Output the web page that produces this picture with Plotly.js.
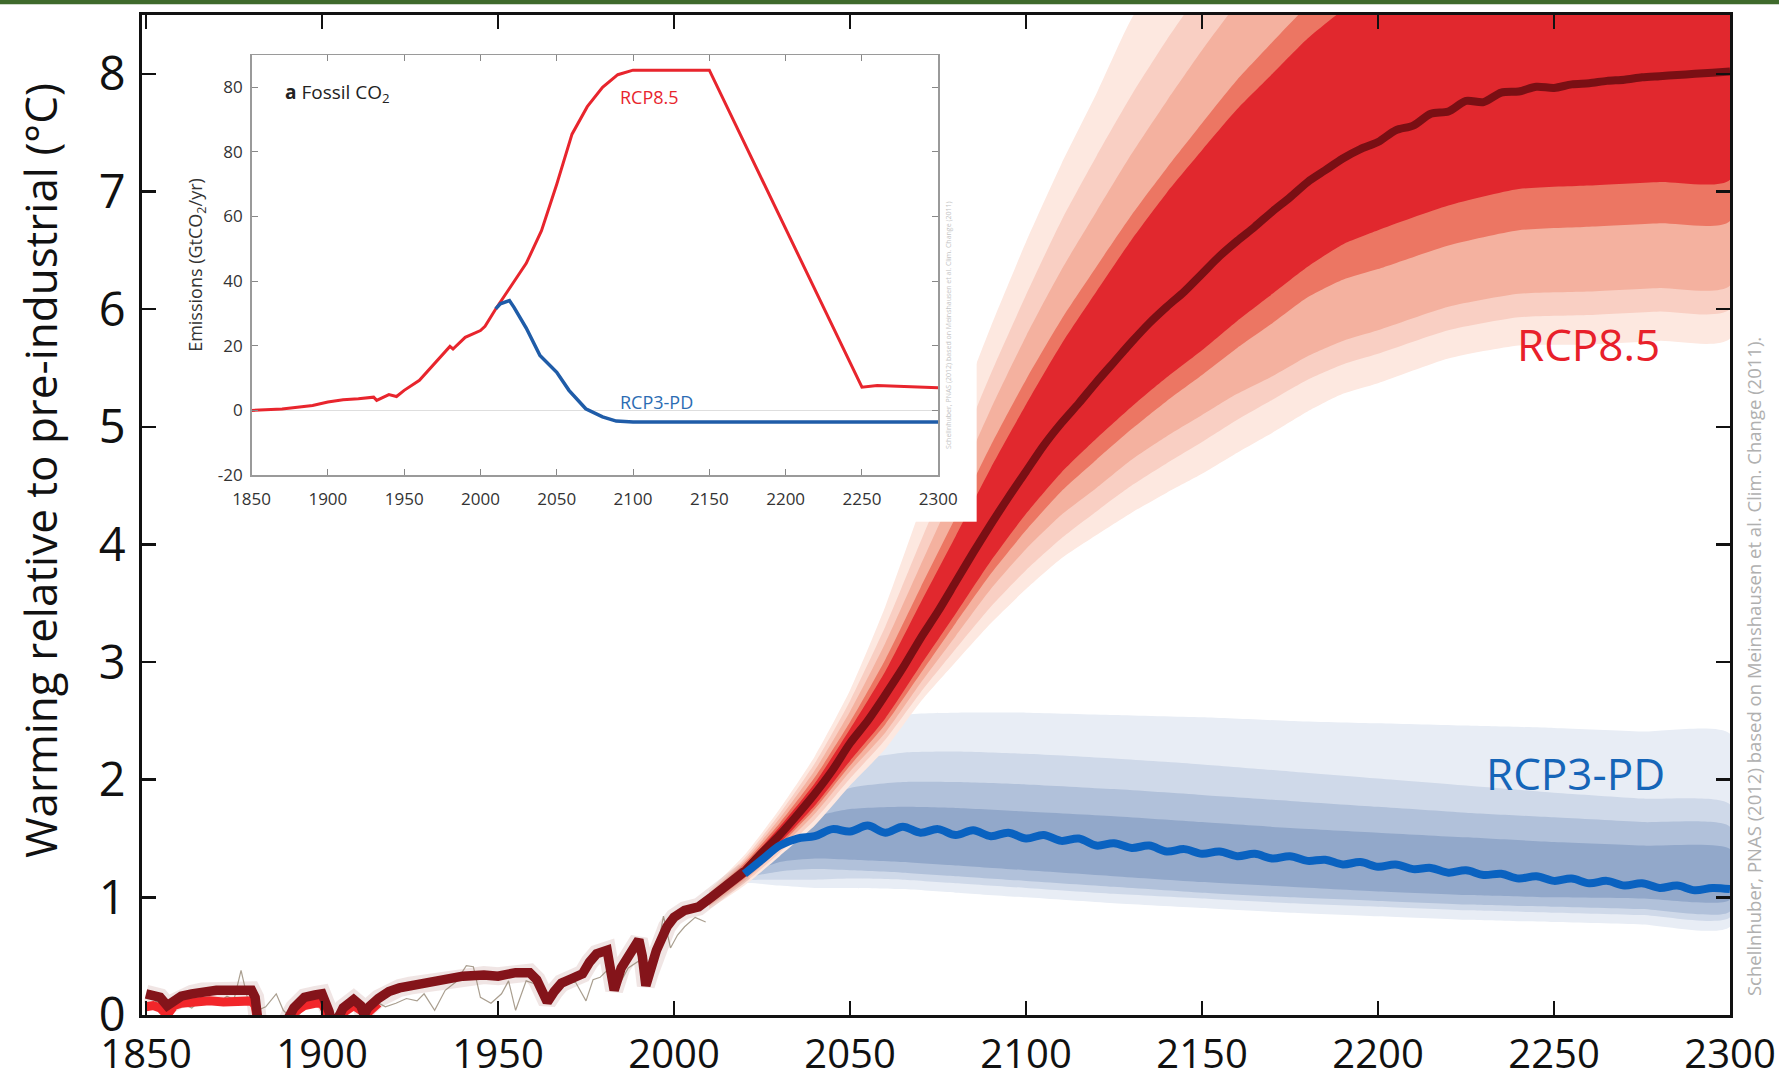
<!DOCTYPE html>
<html>
<head>
<meta charset="utf-8">
<script src="https://cdn.plot.ly/plotly-3.0.1.min.js"></script>
<style>html,body{margin:0;padding:0;background:#fff;}#chart{width:1779px;height:1081px;}</style>
</head>
<body>
<div id="chart"></div>
<script>
// ---------------- Main chart data (warming, °C) ----------------
const xTickYears = [1850, 1900, 1950, 2000, 2050, 2100, 2150, 2200, 2250, 2300];
const xTickLabels = ['1850', '1900', '1950', '2000', '2050', '2100', '2150', '2200', '2250', '2300'];
const yTickValues = [0, 1, 2, 3, 4, 5, 6, 7, 8];

// historical model median (dark red)
const histYears = [1850,1852,1854,1856,1858,1860,1863,1866,1870,1874,1877,1880,1881,1882,1886,1890,1892,1895,1898,1900,1902,1903,1905,1906,1909,1911,1912,1913,1916,1919,1922,1925,1930,1935,1940,1946,1950,1955,1959,1961,1963,1964,1966,1968,1971,1974,1976,1978,1981,1982,1983,1985,1987,1990,1991,1992,1993,1995,1998,2000,2003,2007,2011,2015,2020];
const histWarming = [0.18,0.17,0.15,0.08,0.12,0.16,0.18,0.20,0.21,0.21,0.20,0.21,0.15,-0.10,-0.15,-0.05,0.06,0.15,0.17,0.18,0.03,-0.10,0.00,0.06,0.13,0.08,0.00,0.06,0.14,0.20,0.23,0.25,0.28,0.31,0.33,0.34,0.33,0.36,0.36,0.30,0.15,0.11,0.20,0.27,0.31,0.35,0.45,0.52,0.55,0.35,0.21,0.40,0.50,0.64,0.50,0.25,0.35,0.55,0.75,0.83,0.89,0.92,1.01,1.10,1.22];

// early bright red historical line
const brightYears = [1850,1852,1854,1856,1858,1860,1864,1868,1872,1876,1880,1881,1882,1886,1890,1892,1895,1898,1900,1902,1904,1906,1909,1911,1913,1916];
const brightWarming = [0.07,0.08,0.06,0.00,0.08,0.10,0.11,0.12,0.11,0.11,0.12,0.08,-0.10,-0.15,-0.08,0.02,0.08,0.10,0.10,-0.02,-0.10,0.02,0.08,0.04,0.02,0.10];

// thin observed record
const obsYears = [1850,1853,1856,1860,1863,1866,1870,1873,1875,1877,1879,1881,1884,1887,1889,1892,1895,1898,1901,1904,1907,1909,1912,1915,1918,1921,1924,1927,1929,1932,1935,1938,1941,1943,1945,1948,1951,1953,1955,1958,1961,1964,1966,1968,1970,1972,1975,1977,1979,1981,1983,1985,1987,1990,1992,1995,1997,1999,2001,2003,2006,2009];
const obsWarming = [0.05,0.12,0.02,0.10,0.06,0.14,0.09,0.16,0.13,0.38,0.12,0.03,0.07,0.18,0.04,-0.05,0.06,0.15,0.12,-0.05,0.01,0.10,0.02,0.12,0.07,0.10,0.14,0.12,0.18,0.04,0.21,0.28,0.42,0.41,0.15,0.10,0.18,0.29,0.04,0.29,0.26,0.18,0.22,0.31,0.27,0.28,0.12,0.30,0.32,0.38,0.28,0.29,0.40,0.46,0.30,0.52,0.84,0.57,0.68,0.75,0.83,0.79];

// scenario medians
const scenYears = [2020,2025,2030,2035,2040,2045,2050,2055,2060,2065,2070,2075,2080,2085,2090,2095,2100,2105,2110,2115,2120,2125,2130,2135,2140,2145,2150,2155,2160,2165,2170,2175,2180,2185,2190,2195,2200,2205,2210,2215,2220,2225,2230,2235,2240,2245,2250,2255,2260,2265,2270,2275,2280,2285,2290,2295,2300];
const rcp85Median = [1.22,1.38,1.53,1.70,1.88,2.08,2.31,2.50,2.72,2.95,3.20,3.43,3.68,3.93,4.17,4.40,4.62,4.84,5.03,5.20,5.38,5.55,5.72,5.88,6.02,6.15,6.30,6.45,6.58,6.70,6.83,6.95,7.08,7.18,7.28,7.36,7.42,7.52,7.56,7.66,7.68,7.77,7.76,7.84,7.85,7.89,7.88,7.91,7.92,7.94,7.95,7.97,7.98,7.99,8.00,8.01,8.02];
const rcp3pdMedian = [1.20,1.32,1.44,1.50,1.52,1.58,1.56,1.61,1.55,1.60,1.55,1.58,1.53,1.57,1.52,1.55,1.50,1.53,1.48,1.50,1.44,1.46,1.42,1.44,1.39,1.41,1.37,1.39,1.35,1.37,1.33,1.35,1.31,1.32,1.28,1.30,1.26,1.28,1.24,1.25,1.21,1.23,1.19,1.20,1.16,1.18,1.14,1.16,1.12,1.14,1.10,1.12,1.08,1.10,1.06,1.08,1.07];

// RCP8.5 uncertainty bands (outer 5 -> inner 1)
const fanYears = [2010,2020,2030,2040,2050,2060,2070,2080,2090,2100,2110,2120,2130,2140,2150,2160,2170,2180,2190,2200,2220,2240,2260,2280,2300];
const r1Upper = [1.01,1.27,1.60,1.97,2.43,2.92,3.50,4.07,4.65,5.19,5.70,6.15,6.59,6.99,7.35,7.70,8.00,8.30,8.54,8.72,9.05,9.27,9.34,9.43,9.50];
const r1Lower = [0.95,1.17,1.46,1.78,2.16,2.52,2.97,3.41,3.86,4.26,4.61,4.90,5.17,5.42,5.65,5.90,6.13,6.36,6.55,6.67,6.88,7.02,7.05,7.08,7.10];
const r2Upper = [1.02,1.29,1.63,2.02,2.49,3.02,3.63,4.23,4.84,5.40,5.91,6.36,6.80,7.20,7.58,7.95,8.27,8.58,8.83,9.02,9.35,9.57,9.64,9.73,9.80];
const r2Lower = [0.94,1.16,1.44,1.75,2.12,2.47,2.90,3.33,3.75,4.12,4.45,4.72,4.98,5.22,5.44,5.67,5.88,6.10,6.25,6.34,6.54,6.67,6.70,6.73,6.75];
const r3Upper = [1.03,1.31,1.67,2.08,2.58,3.16,3.82,4.48,5.15,5.77,6.33,6.83,7.32,7.77,8.20,8.60,8.93,9.24,9.48,9.67,10.00,10.22,10.30,10.38,10.44];
const r3Lower = [0.93,1.14,1.41,1.71,2.07,2.40,2.82,3.22,3.62,3.96,4.25,4.48,4.72,4.92,5.10,5.28,5.43,5.60,5.73,5.82,6.02,6.13,6.15,6.18,6.20];
const r4Upper = [1.04,1.33,1.71,2.14,2.67,3.30,4.02,4.73,5.45,6.12,6.75,7.30,7.82,8.29,8.72,9.11,9.43,9.74,9.98,10.17,10.50,10.72,10.80,10.88,10.94];
const r4Lower = [0.92,1.12,1.38,1.66,2.01,2.34,2.74,3.11,3.47,3.78,4.05,4.28,4.50,4.69,4.87,5.06,5.23,5.40,5.53,5.62,5.82,5.93,5.95,5.98,6.00];
const r5Upper = [1.06,1.36,1.75,2.20,2.76,3.47,4.30,5.08,5.85,6.57,7.23,7.83,8.47,8.92,9.30,9.68,10.03,10.33,10.58,10.77,11.10,11.32,11.42,11.48,11.52];
const r5Lower = [0.90,1.10,1.35,1.61,1.95,2.26,2.66,3.00,3.33,3.62,3.88,4.08,4.27,4.44,4.60,4.78,4.95,5.13,5.28,5.37,5.58,5.69,5.70,5.73,5.75];

// RCP3-PD uncertainty bands (outer 4 -> inner 1)
const blueYears = [2015,2020,2030,2040,2050,2065,2080,2100,2125,2150,2175,2200,2225,2250,2275,2300];
const b4Upper = [1.10,1.25,1.70,2.15,2.40,2.55,2.57,2.57,2.55,2.53,2.50,2.48,2.46,2.44,2.41,2.39];
const b4Lower = [1.05,1.12,1.10,1.08,1.08,1.07,1.04,1.00,0.95,0.91,0.87,0.84,0.81,0.79,0.77,0.75];
const b3Upper = [1.09,1.23,1.60,1.95,2.15,2.23,2.24,2.22,2.18,2.13,2.07,2.01,1.95,1.89,1.84,1.79];
const b3Lower = [1.06,1.14,1.15,1.15,1.16,1.15,1.12,1.08,1.03,0.99,0.95,0.92,0.89,0.87,0.85,0.83];
const b2Upper = [1.08,1.22,1.52,1.80,1.93,1.98,1.98,1.96,1.92,1.87,1.82,1.77,1.72,1.68,1.64,1.60];
const b2Lower = [1.07,1.16,1.22,1.24,1.23,1.21,1.18,1.14,1.09,1.04,1.00,0.97,0.94,0.92,0.90,0.88];
const b1Upper = [1.08,1.21,1.47,1.68,1.75,1.77,1.76,1.73,1.69,1.64,1.59,1.55,1.51,1.47,1.44,1.41];
const b1Lower = [1.07,1.18,1.30,1.33,1.32,1.30,1.27,1.23,1.18,1.13,1.09,1.05,1.02,1.00,0.99,0.98];

// ---------------- Inset data: fossil CO2 emissions (GtCO2/yr) ----------------
const insetTickYears = [1850, 1900, 1950, 2000, 2050, 2100, 2150, 2200, 2250, 2300];
const insetTickValues = [-20, 0, 20, 40, 60, 80, 100];
const insetTickLabels = ['-20', '0', '20', '40', '60', '80', '80'];
const ems85Years = [1850,1870,1880,1890,1900,1910,1920,1930,1932,1940,1945,1950,1960,1970,1975,1980,1982,1990,2000,2003,2010,2020,2030,2040,2050,2060,2070,2080,2090,2100,2150,2250,2260,2300];
const ems85 = [0,0.4,1.0,1.5,2.6,3.3,3.6,4.1,3.1,4.9,4.3,6.2,9.3,14.6,17.0,19.8,19.0,22.6,24.7,26.0,31.4,38.5,45.5,55.6,70.0,85.5,94.0,100.0,103.9,105.3,105.3,7.2,7.7,7.0];
const emsPDYears = [2010,2013,2019,2022,2030,2039,2050,2058,2069,2080,2089,2100,2300];
const emsPD = [31.4,33.0,34.0,31.9,25.5,17.0,11.8,6.2,0.5,-2.0,-3.3,-3.6,-3.6];

// ---------------- helpers ----------------
function band(xs, upper, lower, color) {
  return {
    x: xs.concat(xs.slice().reverse()),
    y: upper.concat(lower.slice().reverse()),
    type: 'scatter', mode: 'lines', fill: 'toself', fillcolor: color,
    line: {width: 0, shape: 'spline', smoothing: 0.6, color: color},
    hoverinfo: 'skip', showlegend: false
  };
}
function line(xs, ys, color, width, extra) {
  return Object.assign({
    x: xs, y: ys, type: 'scatter', mode: 'lines',
    line: {color: color, width: width}, hoverinfo: 'skip', showlegend: false
  }, extra || {});
}

const traces = [
  band(blueYears, b4Upper, b4Lower, '#e8edf5'),
  band(blueYears, b3Upper, b3Lower, '#cfd9e9'),
  band(blueYears, b2Upper, b2Lower, '#b1c1da'),
  band(blueYears, b1Upper, b1Lower, '#92a8ca'),
  band(fanYears, r5Upper, r5Lower, '#fde8e0'),
  band(fanYears, r4Upper, r4Lower, '#f9cfc3'),
  band(fanYears, r3Upper, r3Lower, '#f4b19f'),
  band(fanYears, r2Upper, r2Lower, '#ec7663'),
  band(fanYears, r1Upper, r1Lower, '#e1282e'),
  line(histYears, histWarming, 'rgba(205,170,165,0.30)', 18),
  line(obsYears, obsWarming, 'rgba(140,125,105,0.75)', 1.2),
  line(brightYears, brightWarming, '#f2262a', 9),
  line(histYears, histWarming, '#84141a', 9.5),
  line(scenYears, rcp85Median, '#7a0f14', 8, {line: {color: '#7a0f14', width: 8, shape: 'spline', smoothing: 0.8}}),
  line(scenYears, rcp3pdMedian, '#0a62c0', 8, {line: {color: '#0a62c0', width: 8, shape: 'spline', smoothing: 1}}),
  // white inset background holder
  {x: [null], y: [null], xaxis: 'x2', yaxis: 'y2', type: 'scatter', mode: 'lines', hoverinfo: 'skip', showlegend: false},
  line(ems85Years, ems85, '#e8252d', 3, {xaxis: 'x3', yaxis: 'y3'}),
  line(emsPDYears, emsPD, '#1f5ca8', 3.5, {xaxis: 'x3', yaxis: 'y3'})
];

const SANS = '"Open Sans", "Noto Sans", sans-serif';

const mainAxis = {
  ticks: 'inside', ticklen: 14, tickwidth: 2.5, tickcolor: '#111',
  showline: true, linecolor: '#111', linewidth: 3, mirror: 'ticks',
  showgrid: false, zeroline: false, fixedrange: true,
  ticklabeloverflow: 'allow'
};
const insetAxis = {
  ticks: 'inside', ticklen: 6, tickwidth: 1, tickcolor: '#888',
  showline: true, linecolor: '#9a9a9a', linewidth: 1.5, mirror: 'ticks',
  showgrid: false, fixedrange: true,
  tickfont: {family: SANS, size: 17, color: '#333'}
};

const layout = {
  width: 1779, height: 1081,
  margin: {l: 142, r: 49, t: 15, b: 66, pad: 0},
  paper_bgcolor: '#ffffff', plot_bgcolor: '#ffffff',
  showlegend: false,
  font: {family: SANS, color: '#111'},
  xaxis: Object.assign({}, mainAxis, {
    range: [1848.86, 2300], tickvals: xTickYears, ticktext: xTickLabels,
    tickfont: {family: SANS, size: 40, color: '#111'},
    ticklabelstandoff: 2
  }),
  yaxis: Object.assign({}, mainAxis, {
    range: [0, 8.5], tickvals: yTickValues, ticktext: yTickValues.map(String),
    tickfont: {family: SANS, size: 47, color: '#111'},
    ticklabelstandoff: 4
  }),
  xaxis2: {domain: [0.0145, 0.5256], anchor: 'y2', visible: false, range: [0, 1], fixedrange: true},
  yaxis2: {domain: [0.4933, 0.98], anchor: 'x2', visible: false, range: [0, 1], fixedrange: true},
  xaxis3: Object.assign({}, insetAxis, {
    domain: [0.0690, 0.5014], anchor: 'y3', range: [1850, 2300],
    tickvals: insetTickYears, ticktext: insetTickYears.map(String), zeroline: false,
    ticklabelstandoff: 8
  }),
  yaxis3: Object.assign({}, insetAxis, {
    domain: [0.540, 0.960], anchor: 'x3', range: [-20, 110],
    tickvals: insetTickValues, ticktext: insetTickLabels,
    zeroline: true, zerolinecolor: '#dedede', zerolinewidth: 1.5,
    ticklabelstandoff: 4,
    title: {text: 'Emissions (GtCO<sub>2</sub>/yr)', font: {family: SANS, size: 18, color: '#333'}, standoff: 10}
  }),
  annotations: [
    {text: 'Warming relative to pre-industrial (°C)', xref: 'paper', yref: 'paper', x: -0.0642, y: 0.544,
     xanchor: 'center', yanchor: 'middle', textangle: -90, showarrow: false,
     font: {family: SANS, size: 44, color: '#111'}},
    {text: 'RCP8.5', xref: 'paper', yref: 'paper', x: 0.9106, y: 0.671, xanchor: 'center', yanchor: 'middle', showarrow: false,
     font: {family: SANS, size: 44, color: '#e8202a'}},
    {text: 'RCP3-PD', xref: 'paper', yref: 'paper', x: 0.903, y: 0.242, xanchor: 'center', yanchor: 'middle', showarrow: false,
     font: {family: SANS, size: 44, color: '#1565b8'}},
    {text: 'Schellnhuber, PNAS (2012) based on Meinshausen et al. Clim. Change (2011).', xref: 'paper', yref: 'paper',
     x: 1.0145, y: 0.348, xanchor: 'center', yanchor: 'middle', textangle: -90, showarrow: false,
     font: {family: SANS, size: 18.5, color: '#b0b0b0'}},
    {text: '<b>a</b> Fossil CO<sub>2</sub>', xref: 'paper', yref: 'paper', x: 0.0888, y: 0.922, xanchor: 'left', yanchor: 'middle', showarrow: false,
     font: {family: SANS, size: 19, color: '#222'}},
    {text: 'RCP8.5', xref: 'paper', yref: 'paper', x: 0.2997, y: 0.918, xanchor: 'left', yanchor: 'middle', showarrow: false,
     font: {family: SANS, size: 18, color: '#e8252d'}},
    {text: 'RCP3-PD', xref: 'paper', yref: 'paper', x: 0.2997, y: 0.613, xanchor: 'left', yanchor: 'middle', showarrow: false,
     font: {family: SANS, size: 18, color: '#2b6cb3'}},
    {text: 'Schellnhuber, PNAS (2012) based on Meinshausen et al. Clim. Change (2011)', xref: 'paper', yref: 'paper',
     x: 0.5076, y: 0.69, xanchor: 'center', yanchor: 'middle', textangle: -90, showarrow: false,
     font: {family: SANS, size: 7, color: '#c4c4c4'}}
  ],
  shapes: [
    {type: 'rect', xref: 'paper', yref: 'paper', x0: -0.1, x1: 1.04, y0: 1.0108, y1: 1.016,
     fillcolor: '#3f6a2c', line: {width: 0}, layer: 'above'}
  ]
};

Plotly.newPlot('chart', traces, layout, {staticPlot: true, displayModeBar: false});
</script>
</body>
</html>
